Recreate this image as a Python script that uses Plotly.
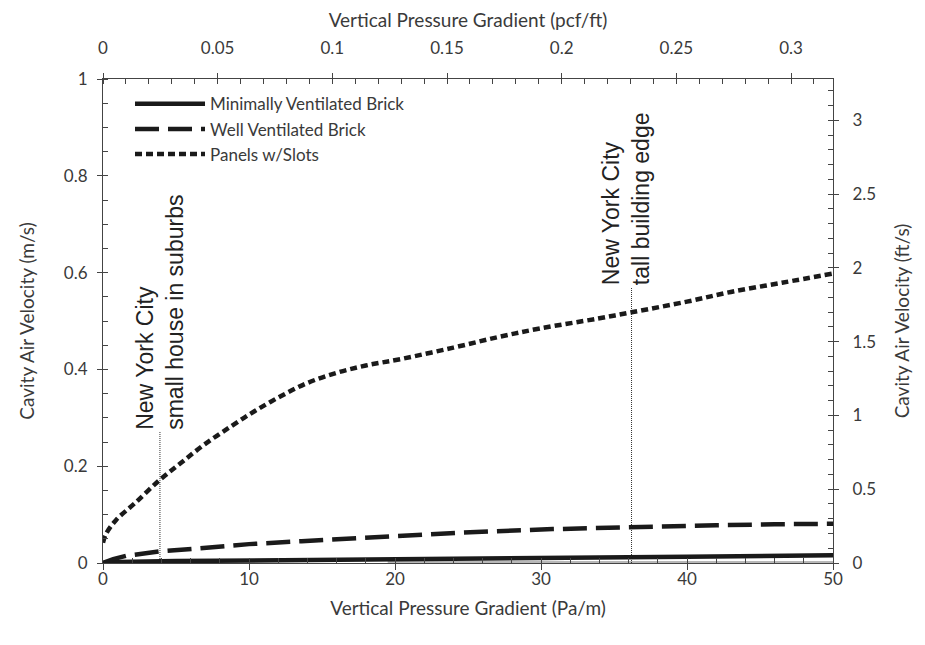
import plotly.graph_objects as go

# ---------------- data ----------------
PA_PER_PCF = 157.087      # 1 pcf/ft = 157.087 Pa/m
FTS_PER_MS = 3.28084      # 1 m/s = 3.28084 ft/s

panels_x = [0, 0.2, 0.9, 2.2, 3.9, 5.35, 6.95, 8.8, 10.4, 12.2, 14.0, 16.0, 18.0, 20.5, 24.0, 27.1, 30.0, 33.9, 36.2, 40.0, 43.0, 46.5, 50.0]
panels_y = [0.042, 0.060, 0.089, 0.124, 0.172, 0.207, 0.245, 0.283, 0.314, 0.345, 0.372, 0.393, 0.408, 0.422, 0.445, 0.467, 0.485, 0.505, 0.518, 0.540, 0.560, 0.579, 0.598]

well_x = [0, 0.7, 1.6, 2.9, 3.9, 6.5, 10.0, 13.6, 17.2, 20.9, 24.6, 30.8, 36.5, 42.0, 46.0, 50.0]
well_y = [0.0, 0.008, 0.015, 0.021, 0.024, 0.030, 0.039, 0.045, 0.051, 0.057, 0.063, 0.070, 0.075, 0.078, 0.080, 0.081]

min_x = [0, 1, 5, 10, 20, 30, 36, 40, 50]
min_y = [0.0, 0.002, 0.004, 0.005, 0.008, 0.011, 0.012, 0.013, 0.016]

grey_x = [19.5, 50]
grey_y = [0.002, 0.002]

marker_x = [3.9, 36.2]
marker_top = [0.272, 0.570]
marker_lines = ["New York City<br>small house in suburbs", "New York City<br>tall building edge"]
label_xshift = [0, -6]

series_names = ["Minimally Ventilated Brick", "Well Ventilated Brick", "Panels w/Slots"]

x_range = [0, 50]
y_range = [0, 1]

TXT = "#3a3a3a"
LINE = "#1a1a1a"
AX = "#444444"
FONT = "Lato, 'Open Sans', sans-serif"

fig = go.Figure()

fig.add_trace(go.Scatter(x=grey_x, y=grey_y, mode="lines", showlegend=False,
                         line=dict(color="#a0a0a0", width=1.5), hoverinfo="skip"))

for mx, mt in zip(marker_x, marker_top):
    fig.add_trace(go.Scatter(x=[mx, mx], y=[0, mt], mode="lines", showlegend=False,
                             line=dict(color="#333333", width=1, dash="1px,1px"),
                             hoverinfo="skip"))

fig.add_trace(go.Scatter(x=min_x, y=min_y, mode="lines", name=series_names[0],
                         line=dict(color=LINE, width=4.5)))
fig.add_trace(go.Scatter(x=well_x, y=well_y, mode="lines", name=series_names[1],
                         line=dict(color=LINE, width=4.5, dash="24px,9px")))
fig.add_trace(go.Scatter(x=panels_x, y=panels_y, mode="lines", name=series_names[2],
                         line=dict(color=LINE, width=4.5, dash="7px,4px", shape="spline")))

# helper traces to carry the secondary (imperial) axes and the outer tick marks
fig.add_trace(go.Scatter(x=[v / PA_PER_PCF for v in panels_x],
                         y=[v * FTS_PER_MS for v in panels_y],
                         xaxis="x2", yaxis="y2", mode="lines", showlegend=False,
                         line=dict(color="rgba(0,0,0,0)", width=0), hoverinfo="skip"))
fig.add_trace(go.Scatter(x=panels_x, y=panels_y, xaxis="x3", yaxis="y",
                         mode="lines", showlegend=False,
                         line=dict(color="rgba(0,0,0,0)", width=0), hoverinfo="skip"))

for mx, mt, txt, xs in zip(marker_x, marker_top, marker_lines, label_xshift):
    fig.add_annotation(x=mx, y=mt, xref="x", yref="y", text=txt, showarrow=False,
                       textangle=-90, align="left", xanchor="center", yanchor="bottom",
                       xshift=xs,
                       font=dict(family="'Liberation Sans', Arial, sans-serif", size=23, color="#222222"))

axis_common = dict(showline=True, linecolor=AX, linewidth=1.2, showgrid=False,
                   zeroline=False, ticks="outside", ticklen=5, tickcolor=AX,
                   automargin=False,
                   tickfont=dict(family=FONT, size=17, color=TXT))
title_font = dict(family=FONT, size=19, color=TXT)

# the page adds an 8px body margin, so the figure is 8px smaller than the window
fig.update_layout(
    width=917, height=637,
    margin=dict(l=95, r=92, t=71, b=82, autoexpand=False),
    paper_bgcolor="white", plot_bgcolor="white",
    font=dict(family=FONT, color=TXT),
    showlegend=True,
    legend=dict(x=0.037, y=0.985, xanchor="left", yanchor="top",
                bgcolor="rgba(0,0,0,0)", font=dict(family=FONT, size=17, color=TXT),
                tracegroupgap=0, itemwidth=70),
    xaxis=dict(range=x_range, dtick=10, tick0=0,
               minor=dict(dtick=2, ticks="inside", ticklen=5, tickcolor=AX),
               title=dict(text="Vertical Pressure Gradient (Pa/m)", font=title_font, standoff=14),
               **{**axis_common, "ticks": "inside"}),
    xaxis3=dict(range=x_range, dtick=10, tick0=0, overlaying="x", side="bottom", anchor="y",
                showline=False, showgrid=False, zeroline=False, ticks="outside", ticklen=6,
                tickcolor=AX, showticklabels=False, automargin=False),
    yaxis=dict(range=y_range, dtick=0.2, tick0=0, ticklabelstandoff=6,
               minor=dict(dtick=0.05, ticks="inside", ticklen=5, tickcolor=AX),
               title=dict(text="Cavity Air Velocity (m/s)", font=title_font, standoff=24),
               **axis_common),
    xaxis2=dict(range=[x_range[0] / PA_PER_PCF, x_range[1] / PA_PER_PCF], dtick=0.05, tick0=0,
                overlaying="x", side="top", anchor="y", ticklabelstandoff=12,
                minor=dict(dtick=0.01, ticks="inside", ticklen=5, tickcolor=AX),
                title=dict(text="Vertical Pressure Gradient (pcf/ft)", font=title_font, standoff=5),
                **axis_common),
    yaxis2=dict(range=[y_range[0] * FTS_PER_MS, y_range[1] * FTS_PER_MS], dtick=0.5, tick0=0,
                overlaying="y", side="right", anchor="x", ticklabelstandoff=10,
                minor=dict(dtick=0.1, ticks="inside", ticklen=5, tickcolor=AX),
                title=dict(text="Cavity Air Velocity (ft/s)", font=title_font, standoff=20),
                **axis_common),
)

fig.write_html("out.html")
